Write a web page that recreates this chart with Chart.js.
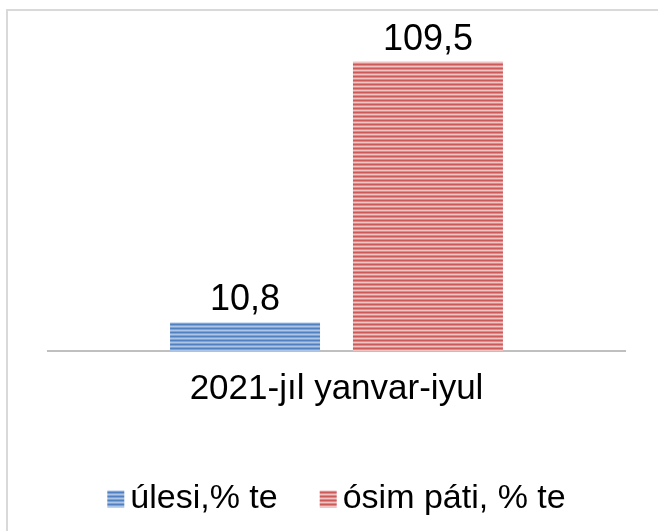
<!DOCTYPE html>
<html>
<head>
<meta charset="utf-8">
<script src="https://cdn.jsdelivr.net/npm/chart.js@4.4.1/dist/chart.umd.min.js"></script>
<style>
html,body{margin:0;padding:0;background:#fff;}
#wrap{position:relative;width:658px;height:531px;overflow:hidden;}
#frame{position:absolute;left:6px;top:9px;width:700px;height:600px;border-left:2px solid #d9d9d9;border-top:2px solid #d9d9d9;}
canvas{position:absolute;left:0;top:0;}
</style>
</head>
<body>
<div id="wrap"><div id="frame"></div><canvas id="c" width="658" height="531"></canvas></div>
<script>
const categories = ["2021-jıl yanvar-iyul"];
const seriesNames = ["úlesi,% te", "ósim páti, % te"];
const ulesi = [10.8];
const osimPati = [109.5];
const valueLabels = [["10,8"], ["109,5"]];

function stripe(dark, mid, light) {
  const c = document.createElement('canvas');
  c.width = 4; c.height = 4;
  const x = c.getContext('2d');
  x.fillStyle = dark; x.fillRect(0, 0, 4, 1);
  x.fillStyle = mid; x.fillRect(0, 1, 4, 1);
  x.fillStyle = light; x.fillRect(0, 2, 4, 1);
  x.fillStyle = mid; x.fillRect(0, 3, 4, 1);
  return document.getElementById('c').getContext('2d').createPattern(c, 'repeat');
}
const bluePat = stripe('#5080c0', '#7fa3d6', '#adc6e8');
const redPat = stripe('#cc5a58', '#df8a89', '#f0c4c3');

const FONT = "'Liberation Sans', Arial, sans-serif";

const valuePlugin = {
  id: 'valueLabels',
  afterDatasetsDraw(chart) {
    const ctx = chart.ctx;
    ctx.save();
    ctx.font = '36px ' + FONT;
    ctx.fillStyle = '#000';
    ctx.textAlign = 'center';
    ctx.textBaseline = 'middle';
    chart.data.datasets.forEach((ds, i) => {
      chart.getDatasetMeta(i).data.forEach((bar, j) => {
        ctx.fillText(valueLabels[i][j], bar.x, bar.y - 22);
      });
    });
    ctx.restore();
  }
};

const legendPlugin = {
  id: 'customLegend',
  afterDraw(chart) {
    const ctx = chart.ctx;
    ctx.save();
    ctx.font = '34px ' + FONT;
    ctx.textBaseline = 'middle';
    const box = 17, gapText = 6, gapItem = 42;
    const items = chart.data.datasets.map(d => ({label: d.label, fill: d.backgroundColor}));
    let total = 0;
    items.forEach((it, i) => {
      it.w = ctx.measureText(it.label).width;
      total += box + gapText + it.w + (i < items.length - 1 ? gapItem : 0);
    });
    let x = (chart.chartArea.left + chart.chartArea.right) / 2 - total / 2;
    const y = 499;
    items.forEach(it => {
      ctx.fillStyle = it.fill;
      ctx.fillRect(x, y - box / 2, box, box);
      ctx.fillStyle = '#000';
      ctx.fillText(it.label, x + box + gapText, y);
      x += box + gapText + it.w + gapItem;
    });
    ctx.restore();
  }
};

new Chart(document.getElementById('c'), {
  type: 'bar',
  data: {
    labels: categories,
    datasets: [
      {label: seriesNames[0], data: ulesi, backgroundColor: bluePat},
      {label: seriesNames[1], data: osimPati, backgroundColor: redPat}
    ]
  },
  options: {
    responsive: false,
    animation: false,
    devicePixelRatio: 1,
    layout: {padding: {left: 48, right: 33, top: 34, bottom: 104}},
    datasets: {bar: {categoryPercentage: 0.634, barPercentage: 0.82}},
    plugins: {legend: {display: false}, tooltip: {enabled: false}},
    scales: {
      x: {
        grid: {display: false, drawTicks: false},
        border: {display: true, color: '#bfbfbf', width: 2},
        ticks: {color: '#000', font: {family: FONT, size: 35}, padding: 17}
      },
      y: {display: false, min: 0, max: 120}
    }
  },
  plugins: [valuePlugin, legendPlugin]
});
</script>
</body>
</html>
